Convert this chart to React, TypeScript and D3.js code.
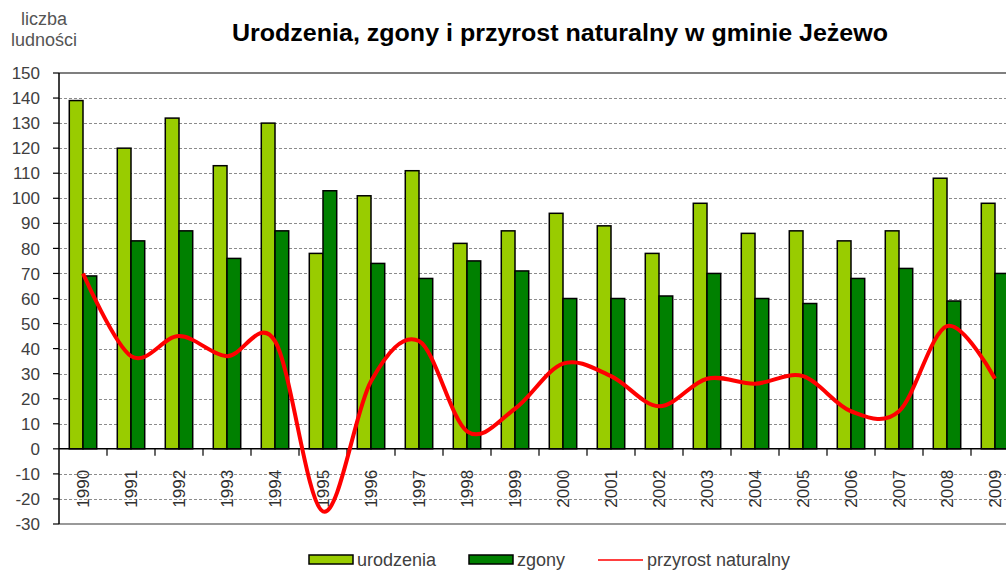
import React from 'react';
import * as d3 from 'd3';

// data
const years = ['1990', '1991', '1992', '1993', '1994', '1995', '1996', '1997', '1998', '1999',
  '2000', '2001', '2002', '2003', '2004', '2005', '2006', '2007', '2008', '2009'];
const urodzenia = [139, 120, 132, 113, 130, 78, 101, 111, 82, 87, 94, 89, 78, 98, 86, 87, 83, 87, 108, 98];
const zgony = [69, 83, 87, 76, 87, 103, 74, 68, 75, 71, 60, 60, 61, 70, 60, 58, 68, 72, 59, 70];
const przyrost = [70, 37, 45, 37, 43, -25, 27, 43, 7, 16, 34, 29, 17, 28, 26, 29, 15, 15, 49, 28];
const yTicks = [-30, -20, -10, 0, 10, 20, 30, 40, 50, 60, 70, 80, 90, 100, 110, 120, 130, 140, 150];

const W = 1006;
const H = 570;
const FONT = "Arial, 'Liberation Sans', sans-serif";
const TEXT = '#404040';

const App = () => {
  const left = 59;
  const step = 48;
  const x = d3.scaleBand<string>().domain(years).range([left, left + step * years.length]).padding(0);
  const inner = d3.scaleBand<string>().domain(['u', 'z']).range([0, step]).paddingInner(0).paddingOuter(0.75);
  const y = d3.scaleLinear().domain([-30, 150]).range([524, 73]);
  const cx = (i: number) => (x(years[i]) as number) + x.bandwidth() / 2;

  const line = d3.line<number>()
    .x((_, i) => cx(i))
    .y(d => y(d))
    .curve(d3.curveCatmullRom.alpha(0));

  const right = W;

  return (
    <svg width={W} height={H} style={{ position: 'absolute', left: 0, top: 0, background: '#fff', overflow: 'hidden' }}>
      {/* axis title */}
      <text x={44} y={25} textAnchor="middle" fontFamily={FONT} fontSize={18} fill="#555">liczba</text>
      <text x={44} y={46} textAnchor="middle" fontFamily={FONT} fontSize={18} fill="#555">ludności</text>
      <text x={232} y={41} fontFamily={FONT} fontSize={24} fontWeight="bold" fill="#000"
        textLength={656} lengthAdjust="spacingAndGlyphs">
        Urodzenia, zgony i przyrost naturalny w gminie Jeżewo
      </text>

      {/* gridlines */}
      {yTicks.filter(t => t !== 0 && t !== 150 && t !== -30).map(t => (
        <line key={'g' + t} x1={left} x2={right} y1={Math.round(y(t)) + 0.5} y2={Math.round(y(t)) + 0.5}
          stroke="#8c8c8c" strokeWidth={1} strokeDasharray="3,2" />
      ))}
      <line x1={left} x2={right} y1={y(150)} y2={y(150)} stroke="#555" strokeWidth={1.5} />
      <line x1={left} x2={right} y1={y(-30)} y2={y(-30)} stroke="#999" strokeWidth={2} />

      {/* bars */}
      {years.map((yr, i) => (
        <g key={yr} transform={`translate(${x(yr)},0)`}>
          <rect x={inner('u')} y={y(urodzenia[i])} width={inner.bandwidth()} height={y(0) - y(urodzenia[i])}
            fill="#99cc00" stroke="#000" strokeWidth={1.5} />
          <rect x={inner('z')} y={y(zgony[i])} width={inner.bandwidth()} height={y(0) - y(zgony[i])}
            fill="#008000" stroke="#000" strokeWidth={1.5} />
        </g>
      ))}

      {/* x axis at zero */}
      <line x1={left} x2={right} y1={y(0)} y2={y(0)} stroke="#000" strokeWidth={1.5} />
      {years.slice(1).map(yr => (
        <line key={'xt' + yr} x1={x(yr)} x2={x(yr)} y1={y(0)} y2={y(0) + 7} stroke="#000" strokeWidth={1.2} />
      ))}
      {years.map((yr, i) => (
        <text key={'xl' + yr} transform={`translate(${cx(i)},${y(0) + 21}) rotate(-90)`} textAnchor="end" dy="0.35em"
          fontFamily={FONT} fontSize={17} fill="#303030">{yr}</text>
      ))}

      {/* y axis */}
      <line x1={left} x2={left} y1={y(150)} y2={y(-30)} stroke="#000" strokeWidth={1.5} />
      {yTicks.map(t => (
        <g key={'yt' + t}>
          <line x1={left - 6} x2={left} y1={y(t)} y2={y(t)} stroke="#000" strokeWidth={1.2} />
          <text x={40} y={y(t)} dy="0.36em" textAnchor="end" fontFamily={FONT} fontSize={17} fill={TEXT}>{t}</text>
        </g>
      ))}

      {/* natural growth */}
      <path d={line(przyrost) || ''} fill="none" stroke="#ff0000" strokeWidth={4} strokeLinejoin="round" />

      {/* legend */}
      <rect x={309} y={555} width={44} height={9} fill="#99cc00" stroke="#000" strokeWidth={1.5} />
      <text x={357} y={566} fontFamily={FONT} fontSize={18} fill={TEXT}>urodzenia</text>
      <rect x={469} y={555} width={44} height={9} fill="#008000" stroke="#000" strokeWidth={1.5} />
      <text x={517} y={566} fontFamily={FONT} fontSize={18} fill={TEXT}>zgony</text>
      <line x1={598} x2={643} y1={560} y2={560} stroke="#ff0000" strokeWidth={1.5} />
      <text x={647} y={566} fontFamily={FONT} fontSize={18} fill={TEXT}>przyrost naturalny</text>
    </svg>
  );
};

export default App;
